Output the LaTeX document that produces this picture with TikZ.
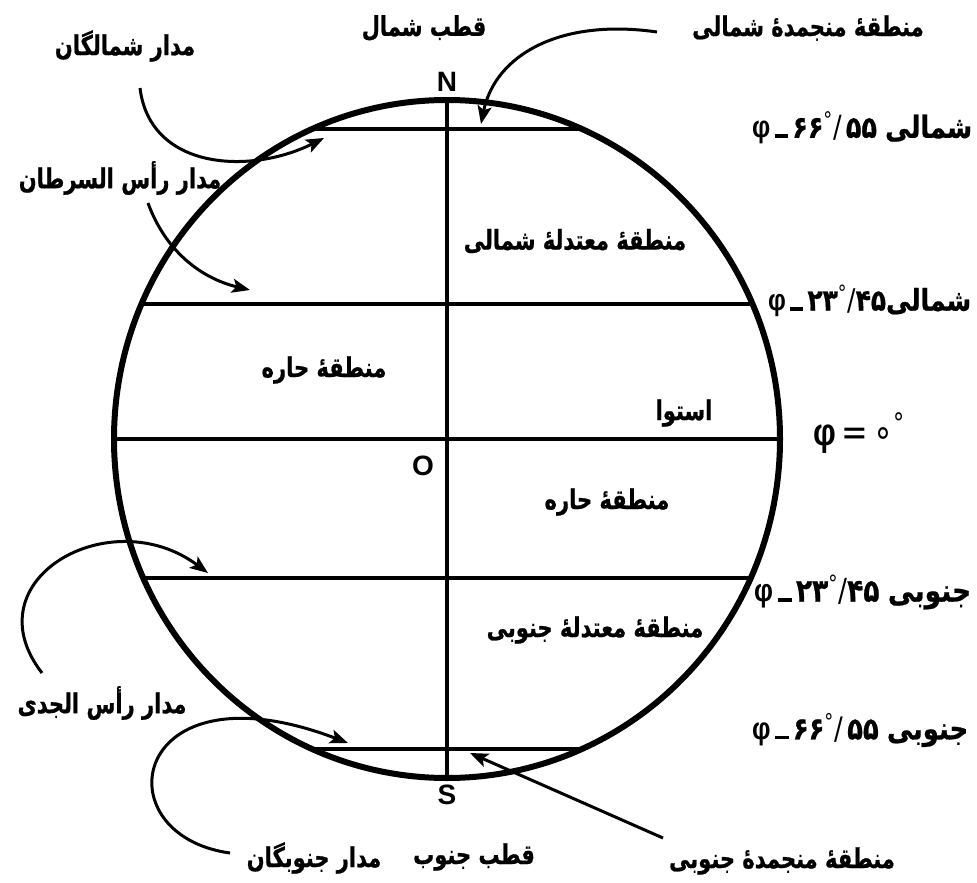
\documentclass[tikz,border=0pt]{standalone}
\usepackage{graphicx}
\usepackage{fontspec}
\setmainfont{DejaVu Sans}
\newfontfamily\arf[Script=Arabic,BoldFeatures={FakeBold=0.8}]{DejaVu Sans}
\newfontfamily\latf{Liberation Sans}
\TeXXeTstate=1
\usetikzlibrary{arrows.meta}
% Arabic label, slightly stretched vertically
\newcommand\fa[1]{\scalebox{1}[1.3]{\arf\bfseries #1}}
\newcommand\fd[1]{{\arf\bfseries #1}}
\newcommand\rlab[2]{\scalebox{1}[1.2]{\resizebox{#1pt}{!}{#2}}}
\newcommand\phiL{{\latf\bfseries φ}}
\newcommand\dashL{\,\rule[0pt]{10pt}{2.2pt}\,}
\tikzset{
  globe/.style={line width=6pt},
  chord/.style={line width=3.4pt},
  pointer/.style={line width=3pt,-{Stealth[length=18pt,width=14pt,inset=4pt]}},
  lbl/.style={inner sep=0pt,font=\fontsize{21pt}{24pt}\selectfont},
  rl/.style={inner sep=0pt,anchor=west,font=\fontsize{19pt}{22pt}\selectfont},
  pole/.style={inner sep=0pt,font=\fontsize{28pt}{31pt}\selectfont\latf\bfseries},
}
\begin{document}
\begin{tikzpicture}[x=1pt,y=-1pt]
\useasboundingbox (0,0) rectangle (977,883);
\fill[white] (0,0) rectangle (977,883);
% globe
\coordinate (C) at (447,439);
\coordinate (Np) at (447,100);
\coordinate (Sp) at (447,778);
\begin{scope}
\clip (C) ellipse [x radius=333pt, y radius=339pt];
\foreach \yy in {129,304,439,578,749} \draw[chord] (100,\yy) -- (800,\yy);
\end{scope}
\draw[chord] (Np) -- (Sp);
\draw[globe] (C) ellipse [x radius=333pt, y radius=339pt];
% pole letters
\node[pole] (N) at (447,82) {N};
\node[pole] (S) at (447,795) {S};
\node[pole] (O) at (423,466) {O};
% labels
\node[lbl] (tNP) at (424,28) {\fa{\beginR قطب شمال\endR}};
\node[lbl] (tNF) at (808,28) {\fa{\beginR منطقهٔ منجمدهٔ شمالی\endR}};
\node[lbl] (tAC) at (125,46) {\fa{\beginR مدار شمالگان\endR}};
\node[lbl] (tCan) at (120,178) {\fa{\beginR مدار رأس السرطان\endR}};
\node[lbl] (tNT) at (575,241) {\fa{\beginR منطقهٔ معتدلهٔ شمالی\endR}};
\node[lbl] (tH1) at (324,370) {\fa{\beginR منطقهٔ حاره\endR}};
\node[lbl] (tEq) at (684,413) {\fa{\beginR استوا\endR}};
\node[lbl] (tH2) at (607,502) {\fa{\beginR منطقهٔ حاره\endR}};
\node[lbl] (tST) at (595,630) {\fa{\beginR منطقهٔ معتدلهٔ جنوبی\endR}};
\node[lbl] (tCap) at (102,703) {\fa{\beginR مدار رأس الجدی\endR}};
\node[lbl] (tAnt) at (314,858) {\fa{\beginR مدار جنوبگان\endR}};
\node[lbl] (tSP) at (474,857) {\fa{\beginR قطب جنوب\endR}};
\node[lbl] (tSF) at (782,861) {\fa{\beginR منطقهٔ منجمدهٔ جنوبی\endR}};
% latitude labels
\node[rl] (l1) at (752,128) {\rlab{220}{\phiL\dashL\fd{۶۶}\textsuperscript{°}/\,\fd{۵۵} \fd{\beginR شمالی\endR}}};
\node[rl] (l2) at (768,301) {\rlab{203}{\phiL\dashL\fd{۲۳}\textsuperscript{°}/\fd{۴۵}\fd{\beginR شمالی\endR}}};
\node[rl] (l3) at (813,433) {\rlab{92}{\phiL\,=\,∘\textsuperscript{°}}};
\node[rl] (l4) at (754,592) {\rlab{217}{\phiL\dashL\fd{۲۳}\textsuperscript{°}/\fd{۴۵} \fd{\beginR جنوبی\endR}}};
\node[rl] (l5) at (752,730) {\rlab{216}{\phiL\dashL\fd{۶۶}\textsuperscript{°}/\,\fd{۵۵} \fd{\beginR جنوبی\endR}}};
% pointer ends
\coordinate (a1s) at (140,88);  \coordinate (a1e) at (324,138);
\coordinate (a2s) at (148,203); \coordinate (a2e) at (250,290);
\coordinate (a3s) at (42,673);  \coordinate (a3e) at (208,573);
\coordinate (a4s) at (230,853); \coordinate (a4e) at (348,743);
\coordinate (a5s) at (657,32);  \coordinate (a5e) at (481,124);
\coordinate (a6s) at (663,838); \coordinate (a6e) at (470,753);
\draw[pointer] (a1s) .. controls (150,170) and (250,175) .. (a1e);
\draw[pointer] (a2s) .. controls (165,250) and (200,278) .. (a2e);
\draw[pointer] (a3s) .. controls (-30,580) and (110,500) .. (a3e);
\draw[pointer] (a4s) .. controls (100,835) and (130,660) .. (a4e);
\draw[pointer] (a5s) .. controls (560,18) and (495,55) .. (a5e);
\draw[pointer] (a6s) -- (a6e);
\end{tikzpicture}
\end{document}
